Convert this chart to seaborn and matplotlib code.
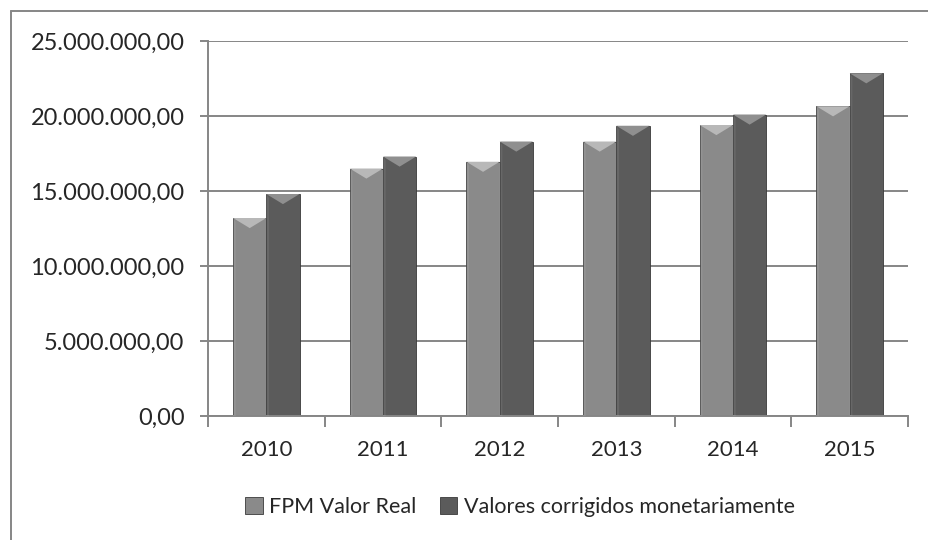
import matplotlib
matplotlib.use('Agg')
import matplotlib.pyplot as plt
import pandas as pd
import seaborn as sns
from matplotlib.lines import Line2D
from matplotlib.patches import Polygon
from matplotlib.ticker import FuncFormatter

# Data
years = ['2010', '2011', '2012', '2013', '2014', '2015']
fpm_real = [13200000, 16500000, 16950000, 18300000, 19400000, 20650000]
corrigidos = [14800000, 17300000, 18300000, 19350000, 20100000, 22850000]
series = ['FPM Valor Real', 'Valores corrigidos monetariamente']
colors = ['#8a8a8a', '#5b5b5b']

df = pd.DataFrame({'ano': years, series[0]: fpm_real, series[1]: corrigidos})
df_long = df.melt(id_vars='ano', var_name='serie', value_name='valor')

sns.set_style('white')
plt.rcParams['font.family'] = ['Lato', 'DejaVu Sans']

fig = plt.figure(figsize=(9.29, 5.40), dpi=100)
ax = fig.add_axes([208 / 929, 1 - 416 / 540, 700 / 929, 375 / 540])

sns.barplot(data=df_long, x='ano', y='valor', hue='serie', palette=colors,
            width=0.57, gap=0, ax=ax, legend=False, saturation=1,
            edgecolor='#3a3a3a', linewidth=0.6)

# bevel on top of each bar, taken from the drawn patches
bev = 0.027 * 25000000
for p, c in zip(ax.patches, [colors[0]] * 6 + [colors[1]] * 6):
    x0, w, top = p.get_x(), p.get_width(), p.get_height()
    light = '#b8b8b8' if c == colors[0] else '#8f8f8f'
    ax.add_patch(Polygon([(x0, top), (x0 + w, top), (x0 + w * 0.5, top - bev)],
                         closed=True, facecolor=light, edgecolor='none', zorder=3))
    ax.add_patch(Polygon([(x0, top), (x0 + w * 0.08, top - bev * 0.4),
                          (x0 + w * 0.08, 0), (x0, 0)],
                         closed=True, facecolor='#ffffff', alpha=0.08, edgecolor='none', zorder=3))

ax.set_ylim(0, 25000000)
ax.set_xlim(-0.5, 5.5)
ax.set_yticks(range(0, 25000001, 5000000))
ax.yaxis.set_major_formatter(FuncFormatter(
    lambda v, pos: f'{v:,.2f}'.replace(',', 'X').replace('.', ',').replace('X', '.')))
ax.yaxis.grid(True, color='#868686', linewidth=1.4)
ax.set_axisbelow(True)
ax.set_xlabel('')
ax.set_ylabel('')

for s in ['top', 'right']:
    ax.spines[s].set_visible(False)
for s in ['left', 'bottom']:
    ax.spines[s].set_color('#868686')
    ax.spines[s].set_linewidth(1.4)

ax.tick_params(axis='y', left=True, length=6, width=1.4, color='#868686',
               labelsize=17, pad=11)
ax.tick_params(axis='x', bottom=False, labelsize=16, pad=14)
ax.set_xticks(range(len(years)))
ax.set_xticklabels(years)
# category boundary ticks
ax.set_xticks([i - 0.5 for i in range(len(years) + 1)], minor=True)
ax.tick_params(axis='x', which='minor', bottom=True, length=8, width=1.4,
               color='#868686')

handles = [plt.Rectangle((0, 0), 1, 1, facecolor=c, edgecolor='#3a3a3a', linewidth=0.6)
           for c in colors]
fig.legend(handles, series, loc='center', bbox_to_anchor=(520 / 929, 1 - 507 / 540),
           ncol=2, frameon=False, fontsize=15.5, handlelength=0.8, handleheight=0.8,
           handletextpad=0.3, columnspacing=1.1)

# outer chart frame (left and top sides)
fig.add_artist(Line2D([11 / 929, 11 / 929], [0, 1 - 11 / 540],
                      transform=fig.transFigure, color='#868686', linewidth=1.4))
fig.add_artist(Line2D([11 / 929, 1], [1 - 11 / 540, 1 - 11 / 540],
                      transform=fig.transFigure, color='#868686', linewidth=1.4))

fig.savefig('out.png', dpi=100)
